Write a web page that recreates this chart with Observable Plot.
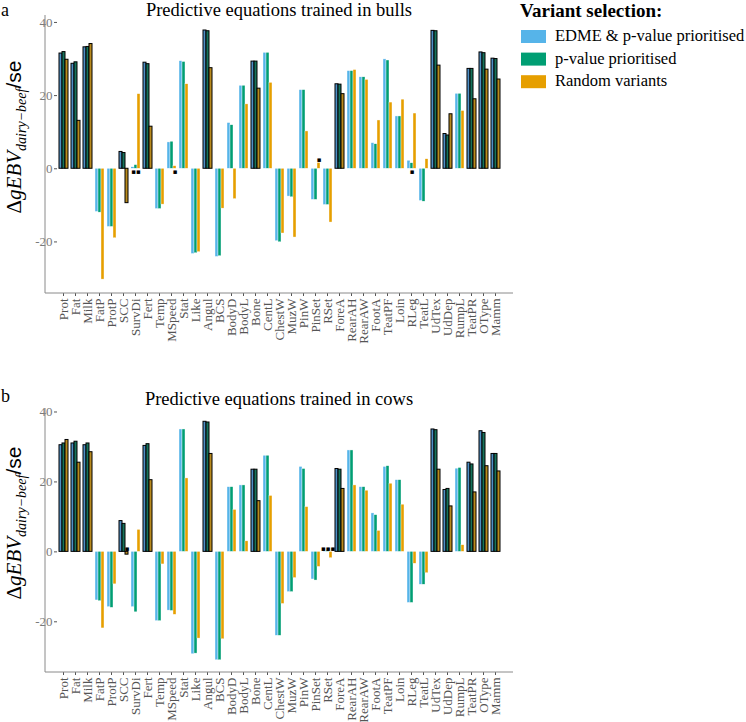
<!DOCTYPE html>
<html><head><meta charset="utf-8">
<script src="https://cdn.jsdelivr.net/npm/d3@7"></script>
<script src="https://cdn.jsdelivr.net/npm/@observablehq/plot@0.6"></script>
<style>
body{margin:0;background:#fff;}
#root{position:relative;width:746px;height:722px;overflow:hidden;}
#root > svg{position:absolute;}
</style></head><body><div id="root"></div>
<script>
const traits = ["Prot","Fat","Milk","FatP","ProtP","SCC","SurvDi","Fert","Temp","MSpeed","Stat","Like","Angul","BCS","BodyD","BodyL","Bone","CentL","ChestW","MuzW","PinW","PinSet","RSet","ForeA","RearAH","RearAW","FootA","TeatPF","Loin","RLeg","TeatL","UdTex","UdDep","RumpL","TeatPR","OType","Mamm"];
const series = ["EDME & p-value prioritised","p-value prioritised","Random variants"];
const outlinedTraits = ["Prot","Fat","Milk","SCC","Fert","Angul","Bone","ForeA","UdTex","UdDep","TeatPR","OType","Mamm"];

// Panel a: trained in bulls
const bullsEDME = [31.5,28.7,33.2,-11.8,-15.9,4.6,0.4,29.0,-11.0,7.2,29.4,-23.3,37.8,-24.1,12.5,22.7,29.3,31.7,-19.8,-7.6,21.5,-8.5,-9.9,23.1,26.7,25.0,7.0,29.9,14.3,2.2,-8.8,37.7,9.5,20.5,27.3,31.8,30.1];
const bullsPval = [31.9,29.1,33.3,-12.0,-15.9,4.3,1.0,28.6,-11.0,7.4,29.2,-23.1,37.6,-23.9,11.9,22.7,29.3,31.7,-20.1,-7.8,21.5,-8.5,-9.9,23.0,26.7,25.0,6.7,29.6,14.3,1.5,-9.0,37.6,9.1,20.5,27.3,31.6,30.0];
const bullsRand = [29.8,13.1,34.1,-30.3,-19.0,-9.4,20.4,11.5,-9.8,0.7,23.1,-22.8,27.5,-10.9,-8.3,17.6,21.9,23.5,-17.7,-18.8,10.2,1.6,-14.7,20.4,27.0,24.3,13.2,18.1,18.9,15.1,2.6,28.2,14.9,15.8,19.0,27.1,24.4];
const bullsStarTraits = ["SurvDi","MSpeed","PinSet","RLeg"];
const bullsStarLabels = ["**","*","*","*"];
const bullsStarValues = [-0.9,-0.9,2.4,-0.9];
const bullsStarAt = ["p-value prioritised","Random variants","Random variants","p-value prioritised"];

// Panel b: trained in cows
const cowsEDME = [30.5,31.0,30.5,-13.9,-15.8,8.8,-15.8,30.3,-19.8,-16.8,35.0,-29.3,37.2,-31.0,18.5,19.0,23.5,27.5,-24.0,-11.5,24.3,-7.9,0.2,23.7,29.0,18.5,11.0,24.3,20.5,-14.6,-9.4,35.0,17.7,23.8,25.5,34.5,28.0];
const cowsPval = [31.0,31.5,31.0,-14.1,-16.0,8.0,-17.3,30.8,-19.8,-16.9,35.0,-29.1,37.0,-31.0,18.5,19.0,23.5,27.5,-24.0,-11.5,23.7,-8.2,0.3,23.5,29.0,18.5,10.5,24.5,20.5,-14.6,-9.4,34.8,18.0,24.0,25.0,34.0,28.0];
const cowsRand = [32.0,25.5,28.5,-21.9,-9.3,-0.8,6.3,20.5,-3.6,-18.0,21.0,-24.8,28.0,-25.0,12.0,3.0,14.5,16.0,-14.9,-7.5,12.8,-4.3,-1.8,18.0,19.0,17.5,6.0,19.5,13.5,-3.4,-6.1,23.5,13.0,1.9,17.0,24.5,23.0];
const cowsStarTraits = ["SCC","RSet"];
const cowsStarLabels = ["*","***"];
const cowsStarValues = [1.0,1.0];
const cowsStarAt = ["Random variants","p-value prioritised"];

const yTicks = [-20,0,20,40];
const lightColors = ["#56B4E9","#009E73","#E69F00"];
const darkColors = ["#4e8fc6","#16735b","#b98a1d"];

function buildRows(a, b, c) {
  const out = [];
  const cols = [a, b, c];
  traits.forEach((t, i) => {
    const outlined = outlinedTraits.includes(t);
    series.forEach((s, j) => {
      out.push({trait: t, series: s, value: cols[j][i], outlined,
        color: outlined ? darkColors[j] : lightColors[j]});
    });
  });
  return out;
}
function buildStars(ts, ls, vs, at) {
  return ts.map((t, i) => ({trait: t, label: ls[i], value: vs[i], at: at[i]}));
}

function panel({data, stars, yDomain, top, height, marginBottom}) {
  const marginTop = 15, marginLeft = 45, marginRight = 2, width = 515;
  const chart = Plot.plot({
    width, height, marginTop, marginBottom, marginLeft, marginRight,
    style: {fontFamily: "Liberation Serif, serif", fontSize: "13px", color: "#555", background: "transparent"},
    fx: {domain: traits, padding: 0, axis: "bottom", tickRotate: -90, tickSize: 3, tickPadding: 2, label: null},
    x: {domain: series, axis: null, paddingInner: 0, paddingOuter: 0.27},
    y: {domain: yDomain, ticks: yTicks, tickSize: 3, tickPadding: 2, tickFormat: d => String(d), label: null},
    marks: [
      Plot.barY(data.filter(d => !d.outlined), {fx: "trait", x: "series", y: "value", fill: d => d.color, stroke: "white", strokeWidth: 0.4}),
      Plot.barY(data.filter(d => d.outlined), {fx: "trait", x: "series", y: "value", fill: d => d.color, stroke: "black", strokeWidth: 1}),
      Plot.text(stars, {fx: "trait", x: "at", y: "value", text: d => d.label.replace(/\*/g, "\u25AA"), fill: "black", fontSize: 7, fontFamily: "DejaVu Sans"})
    ]
  });
  chart.style.top = top + "px";
  chart.style.left = "0px";
  const svg = d3.select(chart);
  const bottom = height - marginBottom;
  svg.append("path")
    .attr("d", `M${marginLeft},${marginTop}V${bottom}H${width - marginRight}`)
    .attr("fill", "none").attr("stroke", "#8a8a8a").attr("stroke-width", 1);
  svg.selectAll('g[aria-label="y-axis tick label"]').attr("fill", "#7a7a7a");
  return chart;
}

const root = document.getElementById("root");
root.appendChild(panel({data: buildRows(bullsEDME, bullsPval, bullsRand),
  stars: buildStars(bullsStarTraits, bullsStarLabels, bullsStarValues, bullsStarAt),
  yDomain: [-34.1, 41.9], top: 0, height: 345, marginBottom: 52}));
root.appendChild(panel({data: buildRows(cowsEDME, cowsPval, cowsRand),
  stars: buildStars(cowsStarTraits, cowsStarLabels, cowsStarValues, cowsStarAt),
  yDomain: [-34.5, 41], top: 393, height: 329, marginBottom: 50}));

// overlay: titles, panel letters, y labels, legend
const ov = d3.select(root).append("svg").attr("width", 746).attr("height", 722)
  .style("left", "0px").style("top", "0px").style("pointer-events", "none");
const serif = "Liberation Serif, serif";
function yLabel(cx, cy) {
  const t = ov.append("text").attr("transform", `translate(${cx},${cy}) rotate(-90)`)
    .attr("text-anchor", "middle").attr("font-size", 21).attr("fill", "black").attr("font-family", serif);
  t.append("tspan").text("\u0394");
  t.append("tspan").attr("font-style", "italic").text("gEBV");
  t.append("tspan").attr("font-style", "italic").attr("font-size", 14).attr("dy", 5).text("dairy\u2212beef");
  t.append("tspan").attr("dy", -5).attr("font-family", "Liberation Sans, sans-serif").text("/se");
}
function titleRow(letter, title, base, letterBase) {
  ov.append("text").attr("x", 1).attr("y", letterBase).attr("font-family", serif).attr("font-size", 18).text(letter);
  ov.append("text").attr("x", 279).attr("y", base).attr("text-anchor", "middle")
    .attr("font-family", serif).attr("font-size", 18.5).text(title);
}
titleRow("a", "Predictive equations trained in bulls", 16, 16);
titleRow("b", "Predictive equations trained in cows", 405, 402);
yLabel(21, 137);
yLabel(21, 523);

ov.append("text").attr("x", 520).attr("y", 17).attr("font-family", serif).attr("font-weight", "bold")
  .attr("font-size", 19).text("Variant selection:");
series.forEach((s, i) => {
  const y = 30 + i * 22.6;
  ov.append("rect").attr("x", 521).attr("y", y).attr("width", 25).attr("height", 13).attr("fill", lightColors[i]);
  ov.append("text").attr("x", 555).attr("y", y + 11).attr("font-family", serif).attr("font-size", 16.5).text(s);
});
</script></body></html>
